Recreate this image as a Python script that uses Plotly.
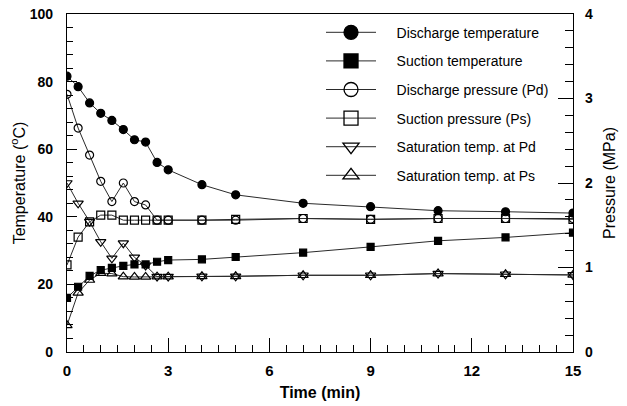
import plotly.graph_objects as go

# Time after compressor stop (min)
time_min = [0, 0.33, 0.67, 1, 1.33, 1.67, 2, 2.33, 2.67, 3, 4, 5, 7, 9, 11, 13, 15]

# Temperatures (°C)
discharge_temp = [81.6, 78.5, 73.7, 70.6, 68.5, 65.8, 62.8, 62.1, 56.1, 53.9,
                  49.5, 46.5, 44.0, 43.0, 41.8, 41.5, 41.1]
suction_temp = [16.0, 19.3, 22.5, 24.2, 24.9, 25.5, 25.9, 25.9, 26.7, 27.2,
                27.4, 28.1, 29.4, 31.1, 32.9, 33.9, 35.3]
sat_temp_pd = [50.0, 44.0, 38.6, 32.6, 27.7, 32.2, 28.0, 25.6, 22.3, 22.3,
               22.4, 22.4, 22.7, 22.7, 23.2, 23.0, 22.8]
sat_temp_ps = [7.9, 17.5, 21.3, 23.3, 23.2, 22.3, 22.2, 22.2, 22.3, 22.3,
               22.4, 22.4, 22.7, 22.7, 23.2, 23.0, 22.8]

# Pressures (MPa)
discharge_pres = [3.05, 2.65, 2.33, 2.02, 1.78, 2.00, 1.78, 1.74, 1.56, 1.56,
                  1.56, 1.56, 1.58, 1.57, 1.58, 1.58, 1.58]
suction_pres = [1.03, 1.36, 1.54, 1.62, 1.62, 1.56, 1.56, 1.56, 1.56, 1.56,
                1.56, 1.57, 1.58, 1.57, 1.58, 1.58, 1.57]

LINE = "#2a2a2a"
FONT = "Liberation Sans, Arial, sans-serif"

series = [
    # name, values, axis, symbol, size
    ("Saturation temp. at Ps", sat_temp_ps, "y", "triangle-up-open", 9),
    ("Saturation temp. at Pd", sat_temp_pd, "y", "triangle-down-open", 9),
    ("Suction pressure (Ps)", suction_pres, "y2", "square-open", 8),
    ("Discharge pressure (Pd)", discharge_pres, "y2", "circle-open", 8),
    ("Suction temperature", suction_temp, "y", "square", 7),
    ("Discharge temperature", discharge_temp, "y", "circle", 8),
]
legend_order = ["Discharge temperature", "Suction temperature",
                "Discharge pressure (Pd)", "Suction pressure (Ps)",
                "Saturation temp. at Pd", "Saturation temp. at Ps"]

fig = go.Figure()
for name, vals, ax, sym, size in series:
    fig.add_trace(go.Scatter(
        x=time_min, y=vals, yaxis=ax, mode="lines+markers", name=name,
        line=dict(color=LINE, width=1),
        marker=dict(symbol=sym, size=size, color="black",
                    line=dict(color="black", width=1.2)),
        showlegend=False,
    ))

# Legend entries with larger symbols
GAP = "\u00a0\u00a0\u00a0\u00a0"
sym_of = {s[0]: s[3] for s in series}
for i, name in enumerate(legend_order):
    fig.add_trace(go.Scatter(
        x=[None], y=[None], mode="lines+markers", name=GAP + name,
        legendgroup=name, legendrank=i,
        line=dict(color=LINE, width=1),
        marker=dict(symbol=sym_of[name], size=14, color="black",
                    line=dict(color="black", width=1.3)),
    ))

tickfont = dict(family=FONT, size=14, color="black", weight="bold")

fig.update_layout(
    width=627, height=406,
    margin=dict(l=67, r=54, t=14, b=54),
    paper_bgcolor="white", plot_bgcolor="white",
    font=dict(family=FONT, color="black"),
    showlegend=True,
    legend=dict(
        x=0.502, y=0.992, xanchor="left", yanchor="top",
        bgcolor="rgba(0,0,0,0)", borderwidth=0,
        font=dict(family=FONT, size=14, color="black"),
        itemwidth=50, tracegroupgap=7.4,
    ),
    xaxis=dict(
        range=[0, 15], tickvals=[0, 3, 6, 9, 12, 15], automargin=False,
        ticks="inside", ticklen=14, tickwidth=1, tickcolor="black",
        minor=dict(dtick=0.5, ticks="inside", ticklen=7, tickcolor="black"),
        showline=True, linecolor="black", linewidth=1.2, mirror=True,
        showgrid=False, zeroline=False,
        tickfont=dict(family=FONT, size=15, color="black", weight="bold"),
        ticklabelstandoff=5,
        title=dict(text="Time (min)", standoff=8,
                   font=dict(family=FONT, size=16, color="black", weight="bold")),
    ),
    yaxis=dict(
        range=[0, 100], tickvals=[0, 20, 40, 60, 80, 100], automargin=False,
        ticks="inside", ticklen=10, tickwidth=1, tickcolor="black",
        minor=dict(dtick=4, ticks="inside", ticklen=6, tickcolor="black"),
        showline=True, linecolor="black", linewidth=1.2,
        showgrid=False, zeroline=False,
        tickfont=tickfont, ticklabelstandoff=10,
        title=dict(text="Temperature (<sup>o</sup>C)", standoff=0,
                   font=dict(family=FONT, size=16, color="black")),
    ),
    yaxis2=dict(
        range=[0, 4], tickvals=[0, 1, 2, 3, 4], overlaying="y", side="right",
        automargin=False,
        ticks="inside", ticklen=15, tickwidth=1, tickcolor="black",
        minor=dict(dtick=0.2, ticks="inside", ticklen=8, tickcolor="black"),
        showline=True, linecolor="black", linewidth=1.2,
        showgrid=False, zeroline=False,
        tickfont=tickfont, ticklabelstandoff=8,
        title=dict(text="Pressure (MPa)", standoff=11,
                   font=dict(family=FONT, size=16, color="black")),
    ),
)

fig.write_html("out.html")
